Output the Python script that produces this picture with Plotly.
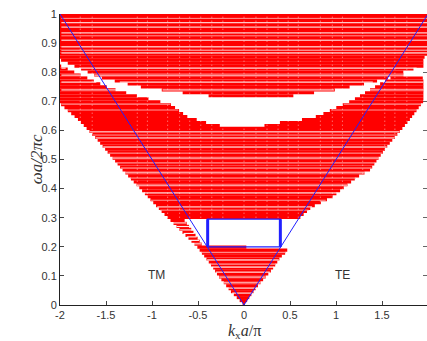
import plotly.graph_objects as go

# ---------------- data ----------------
# outer boundary of the projected band region (TM on kx<0, TE on kx>0)
band_outer_x = [0, -0.14, -0.28, -0.34, -0.51, -0.66, -0.88, -1.32, -1.62, -1.80, -2.03, -2.03,
                2.03, 2.03, 1.95, 1.95, 1.80, 1.55, 1.37, 1.23, 0.96, 0.74, 0.61, 0.61,
                -0.66, -0.55, -0.45, 0.47, 0.47, 0.40, 0.30, 0.14, 0]
band_outer_y = [0, 0.045, 0.10, 0.13, 0.20, 0.247, 0.316, 0.464, 0.577, 0.636, 0.70, 1.0,
                1.0, 0.86, 0.85, 0.70, 0.636, 0.543, 0.464, 0.44, 0.371, 0.337, 0.30, 0.297,
                0.297, 0.25, 0.205, 0.193, 0.185, 0.165, 0.12, 0.062, 0]

# large band gap ("smile") : upper edge then lower edge
gap_upper_x = [-2.05, -1.80, -1.57, -1.13, -0.64, -0.30, 0.47, 1.00, 1.40, 1.62]
gap_upper_y = [0.850, 0.815, 0.782, 0.750, 0.728, 0.716, 0.716, 0.74, 0.766, 0.785]
gap_lower_x = [1.55, 1.18, 0.83, 0.72, 0.42, 0.14, -0.12, -0.39, -0.62, -0.80, -1.13, -1.46, -1.75, -2.05]
gap_lower_y = [0.773, 0.704, 0.653, 0.641, 0.629, 0.612, 0.608, 0.625, 0.648, 0.69, 0.716, 0.745, 0.787, 0.830]

# small gap wedge at the right edge
wedge_x = [1.66, 2.05, 2.05]
wedge_y = [0.794, 0.83, 0.775]

# frequency sampling of the band calculation
omega_min, omega_max, omega_step = 0.005, 0.995, 0.0102

# texture: white and pale rows, dotted columns
white_rows = [0.97, 0.955, 0.935, 0.91, 0.887, 0.866, 0.814, 0.79, 0.766, 0.739,
              0.595, 0.574, 0.543, 0.505, 0.454, 0.412, 0.385, 0.337,
              0.21, 0.222, 0.234, 0.246, 0.258, 0.27, 0.282,
              0.155, 0.13, 0.113, 0.096, 0.076, 0.058, 0.041]
pale_rows = [0.985, 0.925, 0.875, 0.69, 0.67, 0.584, 0.522, 0.488, 0.471, 0.436, 0.36, 0.326,
             0.18, 0.14]
dot_cols = [-1.78, -1.65, -1.16, -1.05, -0.83, -0.70, -0.59, -0.47, -0.35, -0.23, 0, 0.13,
            0.25, 0.37, 0.48, 0.59, 0.83, 0.96, 1.07, 1.29, 1.53, 1.64, 1.77]

# light line and box
light_x = [-2, 0, 2]
light_y = [1, 0, 1]
box_x = [-0.395, 0.395]
box_y = [0.20, 0.295]

x_ticks = [-2, -1.5, -1, -0.5, 0, 0.5, 1, 1.5]
x_ticklabels = ["-2", "-1.5", "-1", "-0.5", "0", "0.5", "1", "1.5"]
y_ticks = [0, 0.1, 0.2, 0.3, 0.4, 0.5, 0.6, 0.7, 0.8, 0.9, 1]
y_ticklabels = ["0", "0.1", "0.2", "0.3", "0.4", "0.5", "0.6", "0.7", "0.8", "0.9", "1"]

RED = "#ff0000"
BLUE = "#2020ff"
XMIN = -2.02


def crossings(px, py, yv):
    xs = []
    n = len(px)
    for i in range(n):
        x1, y1 = px[i], py[i]
        x2, y2 = px[(i + 1) % n], py[(i + 1) % n]
        if (y1 <= yv < y2) or (y2 <= yv < y1):
            xs.append(x1 + (yv - y1) * (x2 - x1) / (y2 - y1))
    xs.sort()
    return [(xs[k], xs[k + 1]) for k in range(0, len(xs) - 1, 2)]


def subtract(segs, holes):
    out = segs
    for h0, h1 in holes:
        nxt = []
        for a, b in out:
            if h1 <= a or h0 >= b:
                nxt.append((a, b))
            else:
                if h0 > a:
                    nxt.append((a, h0))
                if h1 < b:
                    nxt.append((h1, b))
        out = nxt
    return out


def row_segments(ys, xmin):
    gx = gap_upper_x + gap_lower_x
    gy = gap_upper_y + gap_lower_y
    xs, yy = [], []
    for v in ys:
        segs = crossings(band_outer_x, band_outer_y, v)
        holes = crossings(gx, gy, v) + crossings(wedge_x, wedge_y, v)
        for a, b in subtract(segs, holes):
            xs += [max(a, xmin), b, None]
            yy += [v, v, None]
    return xs, yy


omega_levels = []
w = omega_min
while w <= omega_max + 1e-9:
    omega_levels.append(round(w, 5))
    w += omega_step

fig = go.Figure()

# red bands, one row per sampled frequency
rx, ry = row_segments(omega_levels, XMIN)
fig.add_trace(go.Scatter(x=rx, y=ry, mode="lines", line=dict(width=3.1, color=RED),
                         hoverinfo="skip"))

# texture rows
rx, ry = row_segments(pale_rows, -1.985)
fig.add_trace(go.Scatter(x=rx, y=ry, mode="lines", line=dict(width=1, color="#ff9a9a"),
                         hoverinfo="skip"))
rx, ry = row_segments(white_rows, -1.985)
fig.add_trace(go.Scatter(x=rx, y=ry, mode="lines", line=dict(width=1, color="white"),
                         hoverinfo="skip"))
cx, cy = [], []
for v in dot_cols:
    cx += [v, v, None]
    cy += [0.30, 1.0, None]
fig.add_trace(go.Scatter(x=cx, y=cy, mode="lines",
                         line=dict(width=1, color="rgba(255,255,255,0.6)", dash="1px,3px"),
                         hoverinfo="skip"))

# light line
fig.add_trace(go.Scatter(x=light_x, y=light_y, mode="lines", line=dict(width=1, color=BLUE),
                         hoverinfo="skip"))
# box
fig.add_trace(go.Scatter(x=[box_x[0], box_x[1], box_x[1], box_x[0], box_x[0]],
                         y=[box_y[0], box_y[0], box_y[1], box_y[1], box_y[0]],
                         mode="lines", line=dict(width=1.3, color=BLUE), hoverinfo="skip"))
fig.add_trace(go.Scatter(x=[box_x[0], box_x[0], None, box_x[1], box_x[1]],
                         y=[box_y[0], box_y[1], None, box_y[0], box_y[1]],
                         mode="lines", line=dict(width=3, color=BLUE), hoverinfo="skip"))
# right-side ticks helper
fig.add_trace(go.Scatter(x=[None], y=[None], yaxis="y2", hoverinfo="skip"))

fig.add_annotation(x=-0.95, y=0.103, text="TM", showarrow=False,
                   font=dict(family="Liberation Sans", size=12, color="#333333"))
fig.add_annotation(x=1.07, y=0.103, text="TE", showarrow=False,
                   font=dict(family="Liberation Sans", size=12, color="#333333"))
fig.add_annotation(xref="paper", yref="paper", x=0.502, y=-0.09, yanchor="middle",
                   text="<i>k</i><sub>x</sub><i>a</i>/π", showarrow=False,
                   font=dict(family="Liberation Serif", size=16, color="#333333"))
fig.add_annotation(xref="paper", yref="paper", x=-0.095, y=0.5, textangle=-90,
                   text="<i>ωa/2πc</i>", showarrow=False,
                   font=dict(family="Liberation Serif", size=17, color="#333333"))

tickfont = dict(family="Liberation Sans", size=11, color="#333333")
fig.update_layout(
    width=427, height=341,
    margin=dict(l=60, r=0, t=14, b=36),
    paper_bgcolor="white", plot_bgcolor="white",
    xaxis=dict(range=[-2, 1.989], tickvals=x_ticks, ticktext=x_ticklabels, ticks="inside",
               ticklen=4, tickcolor="#444", showline=True, linecolor="#222", linewidth=1,
               showgrid=False, zeroline=False, layer="below traces", tickfont=tickfont),
    yaxis=dict(range=[0, 1], tickvals=y_ticks, ticktext=y_ticklabels, ticks="inside",
               ticklen=4, tickcolor="#444", showline=True, linecolor="#222", linewidth=1,
               showgrid=False, zeroline=False, layer="below traces", tickfont=tickfont),
    yaxis2=dict(range=[0, 1], tickvals=y_ticks, overlaying="y", side="right", anchor="x",
                ticks="inside", ticklen=4, tickcolor="#666", showticklabels=False,
                showline=False, showgrid=False, zeroline=False, layer="below traces"),
    showlegend=False,
)

fig.write_html("out.html")
